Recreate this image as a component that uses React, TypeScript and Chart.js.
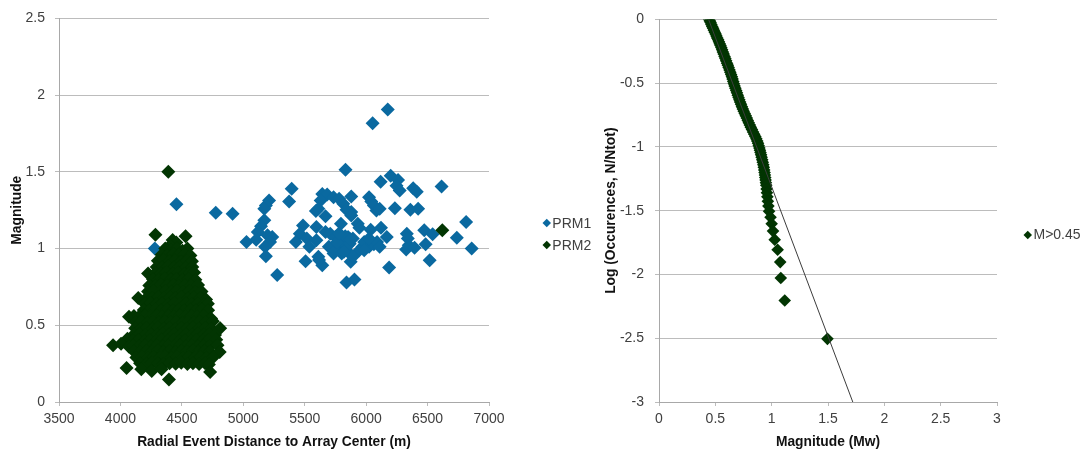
import React, { useEffect, useRef } from 'react';
import { Chart, registerables } from 'chart.js';

Chart.register(...registerables);

const FONT = "'Liberation Sans', Arial, Helvetica, sans-serif";
const BLUE = '#0a69a0';
const GREEN = '#023502';

// PRM1: [distance (m), magnitude]
const prm1Points: [number, number][] = [
  [6176, 1.907], [6053, 1.816], [5832, 1.514], [6614, 1.404], [6118, 1.436], [6200, 1.475], [6260, 1.447],
  [6247, 1.41], [6273, 1.378], [6383, 1.393], [6412, 1.371], [5394, 1.389], [5373, 1.307], [5210, 1.313],
  [5184, 1.281], [5171, 1.259], [4913, 1.227], [4776, 1.234], [4456, 1.288], [4280, 1.0], [5643, 1.356],
  [5683, 1.352], [5735, 1.335], [5780, 1.324], [5814, 1.292], [5879, 1.339], [5630, 1.313], [5611, 1.259],
  [5591, 1.244], [6024, 1.335], [6042, 1.307], [6063, 1.281], [6084, 1.248], [6110, 1.259], [6234, 1.263],
  [6360, 1.253], [6423, 1.259], [5879, 1.238], [5840, 1.253], [5669, 1.21], [5595, 1.14], [5486, 1.151],
  [5460, 1.097], [5428, 1.043], [5517, 1.065], [5538, 1.011], [5507, 0.918], [5611, 0.946], [5643, 0.892],
  [5171, 1.184], [5144, 1.145], [5118, 1.108], [5105, 1.058], [5026, 1.043], [5197, 1.086], [5236, 1.076],
  [5218, 1.043], [5178, 1.011], [5184, 0.95], [5276, 0.827], [5669, 1.108], [5708, 1.097], [5748, 1.076],
  [5788, 1.065], [5814, 1.032], [5775, 1.011], [5735, 0.968], [5840, 0.989], [5866, 1.032], [5892, 1.065],
  [5932, 1.162], [5945, 1.136], [5879, 1.216], [5795, 1.162], [5971, 1.011], [5945, 0.989], [5984, 1.043],
  [6037, 1.123], [6024, 1.011], [6063, 1.028], [6089, 1.043], [6121, 1.136], [6168, 1.076], [6110, 1.011],
  [5874, 0.914], [5892, 0.946], [5840, 0.778], [5905, 0.799], [6187, 0.877], [6331, 1.097], [6339, 1.065],
  [6347, 1.022], [6326, 0.994], [6394, 1.006], [6473, 1.119], [6541, 1.093], [6484, 1.028], [6517, 0.924],
  [6738, 1.071], [6814, 1.173], [6859, 1.0], [5595, 1.054], [5617, 0.925], [6024, 1.065], [5984, 0.989],
  [5696, 1.011], [5748, 0.989], [5801, 0.968], [5853, 1.076], [5800, 1.05], [5830, 1.08], [5760, 1.04],
  [5850, 1.02], [5820, 0.98], [5780, 1.1], [5870, 1.06],
];

// PRM2: [distance (m), magnitude]
const prm2Points: [number, number][] = [
  [4390, 1.5], [6620, 1.12],
  [4285, 1.09], [4530, 1.08], [4425, 1.055], [4455, 1.04], [4405, 1.02],
  [4365, 1.0], [4412, 0.99], [4460, 1.0], [4505, 0.985], [4545, 1.0],
  [4335, 0.96], [4382, 0.955], [4430, 0.965], [4475, 0.958], [4522, 0.962], [4570, 0.955],
  [4305, 0.92], [4350, 0.925], [4400, 0.918], [4445, 0.922], [4495, 0.915], [4540, 0.92], [4582, 0.918],
  [4295, 0.88], [4340, 0.876], [4390, 0.884], [4435, 0.878], [4480, 0.882], [4530, 0.875], [4585, 0.88],
  [4225, 0.838], [4285, 0.84], [4330, 0.836], [4375, 0.845], [4425, 0.838], [4470, 0.842], [4520, 0.835], [4565, 0.84], [4600, 0.844],
  [4265, 0.8], [4310, 0.796], [4360, 0.805], [4410, 0.798], [4455, 0.802], [4505, 0.795], [4555, 0.8], [4610, 0.797],
  [4235, 0.76], [4285, 0.757], [4330, 0.764], [4380, 0.758], [4430, 0.762], [4475, 0.756], [4525, 0.761], [4575, 0.758], [4632, 0.762],
  [4225, 0.72], [4270, 0.724], [4320, 0.716], [4365, 0.722], [4415, 0.718], [4460, 0.725], [4510, 0.717], [4560, 0.721], [4610, 0.715], [4660, 0.72],
  [4145, 0.678], [4215, 0.68], [4260, 0.676], [4310, 0.684], [4355, 0.677], [4405, 0.682], [4450, 0.678], [4500, 0.684], [4550, 0.676], [4600, 0.681], [4650, 0.677], [4697, 0.668],
  [4200, 0.64], [4245, 0.645], [4295, 0.638], [4340, 0.642], [4390, 0.636], [4440, 0.644], [4485, 0.639], [4535, 0.643], [4580, 0.637], [4630, 0.641], [4680, 0.636], [4712, 0.64],
  [4190, 0.6], [4235, 0.596], [4285, 0.603], [4330, 0.598], [4380, 0.604], [4425, 0.597], [4475, 0.602], [4520, 0.596], [4570, 0.601], [4615, 0.598], [4665, 0.603], [4714, 0.598],
  [4070, 0.555], [4110, 0.56], [4150, 0.556], [4200, 0.562], [4245, 0.557], [4295, 0.563], [4340, 0.556], [4390, 0.561], [4435, 0.555], [4485, 0.562], [4530, 0.557], [4580, 0.56], [4625, 0.556], [4675, 0.561], [4738, 0.545],
  [4125, 0.52], [4170, 0.524], [4220, 0.517], [4265, 0.522], [4315, 0.518], [4360, 0.525], [4410, 0.519], [4455, 0.523], [4505, 0.516], [4550, 0.521], [4600, 0.518], [4645, 0.524], [4695, 0.519], [4752, 0.526],
  [4120, 0.48], [4165, 0.476], [4210, 0.483], [4260, 0.478], [4305, 0.484], [4355, 0.477], [4400, 0.482], [4450, 0.476], [4495, 0.483], [4545, 0.479], [4590, 0.484], [4640, 0.477], [4690, 0.482], [4740, 0.478], [4812, 0.48],
  [4110, 0.44], [4155, 0.444], [4205, 0.437], [4250, 0.442], [4300, 0.438], [4345, 0.445], [4395, 0.439], [4440, 0.443], [4490, 0.436], [4535, 0.441], [4585, 0.438], [4630, 0.444], [4680, 0.439], [4725, 0.442], [4770, 0.437],
  [4057, 0.413], [4100, 0.4], [4145, 0.404], [4195, 0.397], [4240, 0.402], [4290, 0.398], [4335, 0.405], [4385, 0.399], [4430, 0.403], [4480, 0.396], [4525, 0.401], [4575, 0.398], [4620, 0.404], [4670, 0.399], [4715, 0.402], [4780, 0.405],
  [3940, 0.37], [4005, 0.38], [4070, 0.36], [4105, 0.366], [4150, 0.362], [4200, 0.368], [4250, 0.363], [4295, 0.369], [4345, 0.362], [4390, 0.367], [4440, 0.361], [4485, 0.368], [4535, 0.364], [4580, 0.369], [4630, 0.362], [4675, 0.367], [4725, 0.363], [4790, 0.37],
  [4110, 0.33], [4160, 0.326], [4210, 0.333], [4255, 0.328], [4305, 0.334], [4350, 0.327], [4400, 0.332], [4445, 0.326], [4495, 0.333], [4540, 0.329], [4590, 0.334], [4635, 0.327], [4685, 0.332], [4730, 0.328], [4808, 0.326],
  [4130, 0.29], [4175, 0.294], [4225, 0.287], [4270, 0.292], [4320, 0.288], [4365, 0.295], [4415, 0.289], [4460, 0.293], [4510, 0.286], [4555, 0.291], [4605, 0.288], [4650, 0.294], [4700, 0.289], [4755, 0.292],
  [4160, 0.252], [4210, 0.248], [4255, 0.255], [4305, 0.25], [4350, 0.246], [4400, 0.253], [4450, 0.249], [4495, 0.255], [4545, 0.248], [4590, 0.252], [4640, 0.247], [4690, 0.253], [4720, 0.245],
  [4050, 0.222], [4170, 0.213], [4255, 0.202], [4335, 0.213], [4730, 0.196], [4395, 0.146],
];

// M>0.45: [magnitude (Mw), log(N/Ntot)]
const occurrencePoints: [number, number][] = [
  [0.445, 0], [0.452, -0.012], [0.458, -0.025], [0.465, -0.04], [0.472, -0.055], [0.48, -0.07], [0.487, -0.085],
  [0.495, -0.1], [0.503, -0.115], [0.51, -0.13], [0.517, -0.145], [0.525, -0.16], [0.532, -0.175], [0.539, -0.19],
  [0.546, -0.205], [0.553, -0.22], [0.56, -0.237], [0.567, -0.255], [0.574, -0.272], [0.582, -0.29], [0.589, -0.307],
  [0.596, -0.325], [0.604, -0.343], [0.611, -0.36], [0.618, -0.378], [0.626, -0.396], [0.633, -0.414], [0.64, -0.432],
  [0.647, -0.45], [0.653, -0.468], [0.659, -0.486], [0.665, -0.504], [0.671, -0.522], [0.678, -0.54], [0.685, -0.558],
  [0.692, -0.576], [0.699, -0.594], [0.706, -0.612], [0.713, -0.63], [0.72, -0.648], [0.728, -0.666], [0.736, -0.684],
  [0.744, -0.702], [0.752, -0.72], [0.761, -0.738], [0.77, -0.756], [0.779, -0.774], [0.788, -0.792], [0.797, -0.81],
  [0.806, -0.828], [0.815, -0.846], [0.825, -0.864], [0.835, -0.882], [0.845, -0.9], [0.855, -0.918], [0.864, -0.936],
  [0.872, -0.954], [0.879, -0.972], [0.885, -0.99], [0.891, -1.008], [0.896, -1.026], [0.901, -1.044], [0.906, -1.062],
  [0.911, -1.08], [0.916, -1.1], [0.921, -1.12], [0.926, -1.14], [0.93, -1.16], [0.934, -1.18], [0.937, -1.2],
  [0.94, -1.22], [0.943, -1.24], [0.946, -1.26], [0.949, -1.28], [0.952, -1.3], [0.955, -1.329], [0.958, -1.359],
  [0.962, -1.391], [0.966, -1.426], [0.971, -1.464], [0.977, -1.505], [0.99, -1.551], [1.0, -1.602], [1.012, -1.66],
  [1.027, -1.727], [1.053, -1.806], [1.076, -1.903], [1.081, -2.028], [1.116, -2.204], [1.495, -2.505],
];

// Fitted trend line end points
const trendLinePoints: [number, number][] = [[0.44, 0], [1.72, -3]];

const leftXTicks = [3500, 4000, 4500, 5000, 5500, 6000, 6500, 7000];
const leftYTicks = [0, 0.5, 1, 1.5, 2, 2.5];
const rightXTicks = [0, 0.5, 1, 1.5, 2, 2.5, 3];
const rightYTicks = [-3, -2.5, -2, -1.5, -1, -0.5, 0];

const toXY = (pts: [number, number][]) => pts.map(([x, y]) => ({ x, y }));

function makeAxis(opts: {
  ticks: number[];
  title: string;
  isY: boolean;
  size: number;
  titlePad: number;
  tickPad: number;
}) {
  const { ticks, title, isY, size, titlePad, tickPad } = opts;
  return {
    type: 'linear',
    min: ticks[0],
    max: ticks[ticks.length - 1],
    afterBuildTicks: (s: any) => {
      s.ticks = ticks.map((v) => ({ value: v }));
    },
    afterFit: (s: any) => {
      if (isY) s.width = size;
      else s.height = size;
    },
    grid: {
      display: true,
      drawOnChartArea: isY,
      drawTicks: true,
      tickLength: 4,
      color: '#bcbcbc',
      lineWidth: 1,
    },
    border: { display: true, color: '#a8a8a8', width: 1 },
    ticks: {
      font: { family: FONT, size: 14 },
      color: '#404040',
      padding: tickPad,
      maxRotation: 0,
      autoSkip: false,
      callback: (v: any) => String(v),
    },
    title: {
      display: true,
      text: title,
      font: { family: FONT, size: 13.8, weight: 'bold' },
      color: '#111111',
      padding: isY ? { top: titlePad, bottom: 0 } : { top: 0, bottom: titlePad },
    },
  };
}

function baseOptions(x: any, y: any, padRight: number) {
  return {
    responsive: false,
    animation: false,
    events: [],
    layout: { padding: { left: 0, top: 17, right: padRight, bottom: 0 } },
    plugins: { legend: { display: false }, tooltip: { enabled: false } },
    scales: { x, y },
  };
}

function LegendItem({ x, y, color, text }: { x: number; y: number; color: string; text: string }) {
  return (
    <div
      style={{
        position: 'absolute',
        left: x,
        top: y - 10,
        height: 20,
        display: 'flex',
        alignItems: 'center',
        fontFamily: FONT,
        fontSize: 14,
        color: '#404040',
        whiteSpace: 'nowrap',
      }}
    >
      <span
        style={{
          display: 'inline-block',
          width: 5.5,
          height: 5.5,
          background: color,
          transform: 'rotate(45deg)',
          marginRight: 3,
        }}
      />
      {text}
    </div>
  );
}

export default function App() {
  const leftRef = useRef<HTMLCanvasElement>(null);
  const rightRef = useRef<HTMLCanvasElement>(null);

  useEffect(() => {
    const left = new Chart(leftRef.current as HTMLCanvasElement, {
      type: 'scatter',
      data: {
        datasets: [
          {
            label: 'PRM1',
            data: toXY(prm1Points),
            backgroundColor: BLUE,
            borderColor: BLUE,
            pointStyle: 'rectRot',
            pointRadius: 7,
            pointBorderWidth: 0,
            order: 1,
          },
          {
            label: 'PRM2',
            data: toXY(prm2Points),
            backgroundColor: GREEN,
            borderColor: GREEN,
            pointStyle: 'rectRot',
            pointRadius: 7,
            pointBorderWidth: 0,
            order: 0,
          },
        ],
      },
      options: baseOptions(
        makeAxis({ ticks: leftXTicks, title: 'Radial Event Distance to Array Center (m)', isY: false, size: 49, titlePad: 1, tickPad: 5 }),
        makeAxis({ ticks: leftYTicks, title: 'Magnitude', isY: true, size: 59, titlePad: 8.5, tickPad: 10 }),
        41,
      ) as any,
    });

    const right = new Chart(rightRef.current as HTMLCanvasElement, {
      type: 'scatter',
      data: {
        datasets: [
          {
            label: 'Trend',
            data: toXY(trendLinePoints),
            showLine: true,
            borderColor: '#3c3c3c',
            borderWidth: 1,
            pointRadius: 0,
            fill: false,
            order: 0,
          },
          {
            label: 'M>0.45',
            data: toXY(occurrencePoints),
            backgroundColor: GREEN,
            borderColor: GREEN,
            pointStyle: 'rectRot',
            pointRadius: 6.3,
            pointBorderWidth: 0,
            order: 1,
          },
        ],
      },
      options: baseOptions(
        makeAxis({ ticks: rightXTicks, title: 'Magnitude (Mw)', isY: false, size: 49, titlePad: 1, tickPad: 5 }),
        makeAxis({ ticks: rightYTicks, title: 'Log (Occurences, N/Ntot)', isY: true, size: 119, titlePad: 63, tickPad: 11 }),
        86,
      ) as any,
    });

    return () => {
      left.destroy();
      right.destroy();
    };
  }, []);

  return (
    <div style={{ position: 'absolute', left: 0, top: 0, width: 1083, height: 451, background: '#ffffff', overflow: 'hidden' }}>
      <canvas ref={leftRef} width={530} height={451} style={{ position: 'absolute', left: 0, top: 0 }} />
      <canvas ref={rightRef} width={543} height={451} style={{ position: 'absolute', left: 540, top: 0 }} />
      <LegendItem x={543.8} y={222.5} color={BLUE} text="PRM1" />
      <LegendItem x={543.8} y={244.5} color={GREEN} text="PRM2" />
      <LegendItem x={1025} y={234.3} color={GREEN} text="M>0.45" />
    </div>
  );
}
